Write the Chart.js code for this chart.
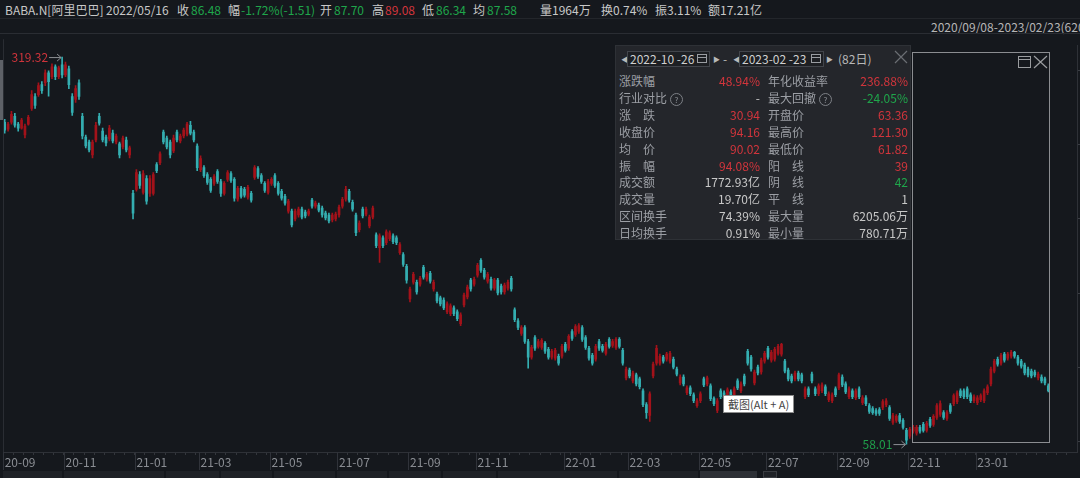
<!DOCTYPE html>
<html>
<head>
<meta charset="utf-8">
<script src="https://cdn.jsdelivr.net/npm/chart.js@4.4.0/dist/chart.umd.min.js"></script>
<style>
html, body { margin: 0; padding: 0; background: #15181d; width: 1080px; height: 478px; overflow: hidden;
  font-family: "Noto Sans CJK SC", "Noto Sans", sans-serif; font-size: 12px; color: #c8c8c8; }
.abs { position: absolute; white-space: nowrap; line-height: 14px; }
.g { color: #1fa64b; }
.r { color: #d3353c; }
.hline { position: absolute; left: 0; width: 1080px; height: 1px; }
#wrap { position: absolute; left: 0; top: 34px; width: 1127px; height: 436px; }
#panel { position: absolute; left: 615px; top: 45px; width: 296px; height: 195px; background: #24262b; border: 1px solid #2e3136; box-sizing: border-box; }
#panel .lab { color: #9c9fa5; }
.datebox { position: absolute; top: 5px; height: 16px; border: 1px solid #42454b; background: #1d1f23; box-sizing: border-box; line-height: 14px; padding-left: 2px; color: #cfcfcf; }
.cal { position: absolute; right: 2px; top: 2px; width: 10px; height: 9px; border: 1px solid #9a9da2; box-sizing: border-box; }
.cal::after { content: ""; position: absolute; left: 0; right: 0; top: 2px; height: 1px; background: #9a9da2; }
.tri { position: absolute; top: 5px; font-size: 7px; color: #b8b8b8; line-height: 16px; }
.help { display: inline-block; width: 11px; height: 11px; border: 1px solid #7d8086; border-radius: 50%; font-size: 8px; line-height: 11px; text-align: center; color: #8d9096; margin-left: 3px; vertical-align: 0px; }
#sel { position: absolute; left: 912px; top: 52px; width: 138px; height: 391px; border: 1px solid #8b8d91; box-sizing: border-box; }
#tip { position: absolute; left: 723px; top: 395px; width: 71px; height: 18px; background: #fff; border: 1px solid #8d8d8d; box-sizing: border-box; color: #444; font-size: 11px; line-height: 16px; padding-left: 4px; white-space: nowrap; }
.tab { position: absolute; top: 471px; height: 7px; background: #1f2227; }
</style>
</head>
<body>

<!-- top info bar -->
<span class="abs" style="left:5px;top:3px">BABA.N[阿里巴巴]</span>
<span class="abs" style="left:106px;top:3px">2022/05/16</span>
<span class="abs" style="left:177px;top:3px">收</span><span class="abs g" style="left:191px;top:3px">86.48</span>
<span class="abs" style="left:228px;top:3px">幅</span><span class="abs g" style="left:241px;top:3px">-1.72%(-1.51)</span>
<span class="abs" style="left:320px;top:3px">开</span><span class="abs g" style="left:334px;top:3px">87.70</span>
<span class="abs" style="left:372px;top:3px">高</span><span class="abs r" style="left:385px;top:3px">89.08</span>
<span class="abs" style="left:422px;top:3px">低</span><span class="abs g" style="left:436px;top:3px">86.34</span>
<span class="abs" style="left:473px;top:3px">均</span><span class="abs g" style="left:487px;top:3px">87.58</span>
<span class="abs" style="left:540px;top:3px">量1964万</span>
<span class="abs" style="left:601px;top:3px">换0.74%</span>
<span class="abs" style="left:655px;top:3px">振3.11%</span>
<span class="abs" style="left:708px;top:3px">额17.21亿</span>
<div class="hline" style="top:18px;background:#23262b"></div>
<span class="abs" style="left:931px;top:20px;color:#b5b5b5;text-decoration:underline">2020/09/08-2023/02/23(620日)</span>
<div class="hline" style="top:33px;background:#2a2d33"></div>

<!-- left scroll marker -->
<div style="position:absolute;left:0;top:60px;width:3px;height:60px;background:#5e6167"></div>

<div id="wrap"><canvas id="kline"></canvas></div>

<!-- range statistics panel -->
<div id="panel">
  <span class="tri" style="left:5px">&#9664;</span>
  <div class="datebox" style="left:11px;width:83px">2022-10 -26<span class="cal"></span></div>
  <span class="tri" style="left:97px">&#9654;</span>
  <span class="abs" style="left:107px;top:6px;color:#b8b8b8">-</span>
  <span class="tri" style="left:117px">&#9664;</span>
  <div class="datebox" style="left:123px;width:85px">2023-02 -23<span class="cal"></span></div>
  <span class="tri" style="left:210px">&#9654;</span>
  <span class="abs" style="left:222px;top:6px;color:#b8b8b8">(82日)</span>
  <svg style="position:absolute;left:278px;top:4px" width="14" height="14"><path d="M1 1 L13 13 M13 1 L1 13" stroke="#6b6e73" stroke-width="1.2"/></svg>
  <div id="rows"></div>
</div>

<!-- selected range frame -->
<div id="sel">
  <svg style="position:absolute;left:104px;top:2px" width="34" height="14">
    <rect x="1.5" y="1.5" width="12" height="11" fill="none" stroke="#9a9c9f" stroke-width="1"/>
    <path d="M1.5 4.5 H13.5" stroke="#9a9c9f" stroke-width="1"/>
    <path d="M17 1 L30 13 M30 1 L17 13" stroke="#9a9c9f" stroke-width="1.2"/>
  </svg>
</div>

<div id="tip">截图(Alt + A)</div>

<!-- bottom tabs -->
<div class="tab" style="left:3px;width:59px"></div>
<div class="tab" style="left:64px;width:100px"></div>
<div class="tab" style="left:166px;width:53px"></div>
<div class="tab" style="left:221px;width:51px"></div>
<div class="tab" style="left:274px;width:61px"></div>
<div class="tab" style="left:337px;width:50px"></div>
<div class="tab" style="left:389px;width:52px"></div>
<div class="tab" style="left:443px;width:53px"></div>
<div class="tab" style="left:498px;width:119px"></div>
<div class="tab" style="left:619px;width:79px"></div>
<div class="tab" style="left:700px;width:57px;background:#2d3036"></div>
<div class="tab" style="left:763px;width:14px;border:1px solid #3a3d42;box-sizing:border-box"></div>

<script>
// daily K-line, two trading days per candle, 2020/09/08 - 2023/02/23
const opens = [
  275.3, 270.7, 275.3, 279.3, 274.0, 271.3, 266.7, 274.0, 284.7, 292.7,
  294.0, 300.7, 302.0, 308.7, 306.0, 312.7, 306.0, 314.0, 307.3, 311.3,
  292.7, 290.7, 302.0, 279.3, 265.3, 262.0, 253.3, 263.3, 279.3, 269.3,
  265.3, 264.0, 268.0, 262.0, 260.7, 258.7, 263.3, 253.3, 227.3, 230.0,
  240.0, 228.0, 237.3, 227.3, 227.3, 246.7, 248.0, 268.7, 264.7, 262.0,
  256.0, 268.7, 262.7, 266.0, 267.3, 273.3, 268.7, 259.3, 243.3, 244.7,
  240.0, 236.7, 234.0, 242.0, 235.3, 227.3, 236.7, 240.7, 236.7, 223.3,
  230.7, 230.0, 224.7, 227.3, 238.0, 244.0, 239.3, 234.0, 228.0, 234.0,
  239.3, 234.0, 228.7, 225.3, 215.3, 215.3, 210.0, 212.7, 216.7, 214.7,
  213.3, 222.7, 218.7, 219.3, 217.3, 214.0, 212.7, 209.3, 210.0, 212.7,
  218.7, 223.3, 228.7, 221.3, 212.7, 202.7, 216.7, 213.3, 205.3, 211.3,
  199.3, 190.7, 197.3, 194.0, 196.7, 198.7, 197.3, 187.3, 186.0, 178.0,
  156.0, 167.3, 167.3, 166.0, 177.3, 169.3, 173.3, 162.7, 159.3, 156.7,
  155.3, 147.3, 146.0, 150.0, 147.3, 139.3, 152.0, 157.3, 168.7, 166.0,
  172.0, 182.0, 175.3, 168.0, 169.3, 163.3, 168.7, 164.7, 160.7, 163.3,
  170.0, 148.7, 141.3, 132.7, 136.7, 127.3, 116.7, 130.0, 124.0, 123.3,
  126.0, 122.0, 116.7, 116.0, 117.3, 117.3, 125.3, 122.7, 134.0, 132.0,
  134.0, 136.7, 130.0, 122.7, 118.0, 115.3, 127.3, 124.0, 119.3, 128.7,
  124.7, 123.3, 128.7, 121.3, 102.7, 108.0, 100.7, 104.7, 102.0, 94.0,
  84.7, 77.3, 104.0, 112.7, 112.7, 116.7, 115.3, 114.0, 115.3, 108.7,
  99.3, 103.3, 92.7, 96.0, 91.3, 84.0, 87.3, 102.0, 98.7, 97.3,
  88.7, 80.7, 94.0, 92.7, 90.0, 93.3, 90.7, 100.7, 94.0, 104.0,
  120.7, 116.7, 99.3, 110.0, 106.7, 114.0, 122.7, 114.7, 115.3, 119.3,
  118.7, 114.0, 108.0, 104.0, 102.0, 106.0, 104.7, 90.0, 95.3, 105.3,
  95.3, 92.0, 94.0, 96.7, 88.0, 87.3, 95.3, 96.0, 103.3, 98.7,
  90.0, 94.0, 89.3, 95.3, 86.0, 89.3, 84.0, 82.0, 80.7, 81.3,
  82.7, 84.7, 82.7, 72.7, 74.0, 77.3, 74.0, 67.3, 63.36, 66.7,
  65.3, 69.3, 71.3, 67.3, 74.7, 71.3, 76.0, 78.0, 79.3, 75.3,
  84.0, 85.3, 86.7, 94.0, 94.0, 95.3, 91.3, 87.3, 86.0, 88.0,
  87.3, 92.7, 98.7, 107.3, 115.3, 112.7, 118.7, 116.0, 117.3, 120.0,
  116.7, 114.0, 111.3, 108.7, 107.3, 106.7, 102.7, 103.3, 102.0, 97.3
];
const closes = [
  270.0, 274.0, 280.7, 273.3, 271.3, 276.7, 272.7, 278.7, 294.0, 286.7,
  300.0, 296.7, 308.7, 302.7, 312.7, 306.0, 312.0, 307.3, 314.0, 300.7,
  282.0, 298.0, 292.7, 266.0, 259.3, 256.7, 262.0, 273.3, 274.7, 263.3,
  261.3, 271.3, 262.7, 266.0, 253.3, 264.7, 256.7, 258.0, 214.0, 241.3,
  232.7, 240.7, 222.0, 237.3, 240.0, 242.7, 254.0, 262.0, 258.7, 253.3,
  264.7, 263.3, 266.0, 270.0, 274.0, 268.0, 263.3, 244.7, 250.7, 239.3,
  234.7, 229.3, 238.7, 235.3, 227.3, 234.0, 241.3, 236.0, 224.0, 230.7,
  225.3, 226.0, 231.3, 222.7, 244.7, 238.7, 235.3, 229.3, 235.3, 236.7,
  232.7, 227.3, 224.0, 220.7, 222.0, 206.0, 215.3, 216.7, 211.3, 212.0,
  215.3, 218.7, 220.7, 216.0, 212.7, 210.7, 208.7, 212.7, 213.3, 218.0,
  223.3, 230.0, 222.7, 216.7, 200.7, 207.3, 212.0, 216.7, 211.3, 217.3,
  192.0, 198.7, 192.0, 201.3, 200.7, 194.7, 194.0, 192.7, 179.3, 168.7,
  162.7, 172.7, 160.7, 170.0, 170.7, 172.7, 168.0, 167.3, 154.7, 152.7,
  150.0, 152.7, 151.3, 146.0, 142.7, 145.3, 158.7, 164.0, 162.7, 169.3,
  178.7, 175.3, 170.7, 172.7, 163.3, 168.7, 160.0, 160.7, 165.3, 167.3,
  162.7, 142.0, 136.7, 136.7, 127.3, 116.7, 123.3, 122.7, 127.3, 128.0,
  120.7, 116.7, 120.7, 121.3, 112.7, 124.0, 121.3, 130.7, 129.3, 137.3,
  138.0, 128.7, 123.3, 116.0, 112.7, 124.0, 122.7, 121.3, 125.3, 124.0,
  127.3, 128.7, 124.0, 112.7, 108.7, 104.0, 106.0, 98.7, 96.7, 84.7,
  79.3, 92.0, 112.0, 122.7, 117.3, 114.0, 118.7, 119.3, 110.0, 105.3,
  103.3, 98.7, 96.0, 92.0, 87.3, 87.3, 92.0, 98.0, 102.7, 88.7,
  85.3, 87.3, 90.0, 89.3, 94.7, 90.0, 95.3, 96.0, 98.7, 98.7,
  112.7, 108.7, 106.7, 106.0, 114.7, 119.3, 116.7, 120.0, 122.0, 124.0,
  125.3, 107.3, 102.0, 100.7, 106.0, 102.0, 100.7, 95.3, 91.3, 100.7,
  92.0, 97.3, 98.0, 92.0, 92.0, 91.3, 91.3, 104.7, 98.0, 93.3,
  95.3, 90.0, 94.0, 90.0, 89.3, 85.3, 80.0, 79.3, 78.7, 78.7,
  86.7, 87.3, 75.3, 77.3, 76.7, 73.3, 69.3, 60.7, 68.0, 69.3,
  69.3, 66.7, 67.3, 72.0, 70.7, 76.7, 84.0, 85.3, 76.0, 79.3,
  80.0, 90.7, 92.7, 90.7, 90.0, 90.0, 87.3, 90.0, 89.3, 90.7,
  94.0, 96.7, 108.7, 114.0, 112.0, 118.0, 114.7, 118.7, 120.0, 117.3,
  112.7, 110.7, 106.0, 104.7, 104.0, 104.7, 105.3, 100.7, 99.3, 94.16
];
const highs = [
  277.3, 275.3, 282.7, 281.3, 275.3, 278.0, 274.0, 280.0, 296.7, 294.7,
  302.0, 302.7, 310.7, 310.0, 314.7, 314.0, 313.3, 319.32, 316.0, 313.3,
  294.7, 300.0, 304.0, 281.3, 266.7, 263.3, 263.3, 275.3, 281.3, 271.3,
  266.7, 273.3, 270.0, 267.3, 262.0, 266.0, 265.3, 259.3, 229.3, 243.3,
  242.0, 242.7, 239.3, 239.3, 241.3, 248.0, 255.3, 270.0, 266.0, 263.3,
  266.7, 270.0, 267.3, 271.3, 275.3, 276.0, 270.0, 260.7, 252.7, 246.0,
  241.3, 238.0, 240.0, 243.3, 236.7, 235.3, 242.7, 242.0, 238.0, 232.0,
  232.0, 231.3, 232.7, 228.7, 246.0, 245.3, 240.7, 235.3, 236.7, 238.0,
  240.7, 235.3, 230.0, 226.7, 223.3, 216.7, 216.7, 218.0, 218.0, 216.0,
  216.7, 224.0, 222.0, 220.7, 218.7, 215.3, 214.0, 214.0, 214.7, 219.3,
  224.7, 232.0, 230.0, 222.7, 214.0, 208.7, 218.0, 218.0, 212.7, 218.7,
  200.7, 200.0, 198.7, 202.7, 202.0, 200.0, 198.7, 194.0, 187.3, 179.3,
  164.0, 174.0, 168.7, 171.3, 178.7, 174.0, 174.7, 168.7, 160.7, 158.0,
  156.7, 154.0, 152.7, 151.3, 148.7, 146.7, 160.0, 165.3, 170.0, 170.7,
  180.0, 183.3, 176.7, 174.0, 170.7, 170.0, 170.0, 166.0, 166.7, 168.7,
  171.3, 150.0, 142.7, 138.0, 138.0, 128.7, 124.7, 131.3, 128.7, 129.3,
  127.3, 123.3, 122.0, 122.7, 118.7, 125.3, 126.7, 132.0, 135.3, 138.7,
  139.3, 138.0, 131.3, 124.0, 119.3, 125.3, 128.7, 125.3, 126.7, 130.0,
  128.7, 130.0, 130.0, 122.7, 110.0, 109.3, 107.3, 106.0, 103.3, 95.3,
  86.0, 93.3, 113.3, 124.7, 118.7, 118.0, 120.0, 120.7, 116.7, 110.0,
  104.7, 104.7, 97.3, 97.3, 92.7, 88.7, 93.3, 103.3, 104.0, 98.7,
  90.0, 88.7, 95.3, 94.0, 96.0, 94.7, 96.7, 102.0, 100.0, 105.3,
  122.0, 118.0, 108.0, 111.3, 116.0, 120.7, 124.0, 121.3, 123.3, 125.3,
  126.0, 115.3, 109.3, 105.3, 107.3, 107.3, 106.0, 96.7, 96.7, 106.7,
  96.7, 98.7, 99.3, 98.0, 93.3, 92.7, 96.7, 106.0, 104.7, 100.0,
  96.7, 95.3, 95.3, 96.7, 90.7, 90.7, 85.3, 83.3, 82.0, 82.7,
  88.0, 88.7, 84.0, 78.7, 78.0, 78.7, 75.3, 68.7, 69.3, 70.7,
  70.7, 70.7, 72.7, 73.3, 76.0, 78.0, 85.3, 87.3, 80.7, 80.7,
  85.3, 92.0, 94.0, 95.3, 95.3, 96.7, 92.7, 91.3, 90.7, 92.0,
  95.3, 98.0, 110.0, 115.3, 116.7, 119.3, 120.0, 120.0, 121.3, 120.7,
  118.0, 115.3, 112.7, 110.0, 108.7, 108.0, 106.7, 104.7, 103.3, 98.7
];
const lows = [
  268.0, 269.3, 274.0, 272.0, 269.3, 270.7, 264.7, 273.3, 283.3, 284.7,
  292.7, 294.7, 300.0, 293.0, 304.7, 304.0, 304.7, 305.3, 306.0, 298.0,
  280.0, 288.7, 290.7, 264.0, 258.0, 255.3, 251.3, 262.0, 273.3, 262.0,
  259.3, 262.7, 261.3, 260.7, 251.3, 257.3, 255.3, 251.3, 210.0, 228.7,
  230.7, 226.7, 220.0, 225.3, 226.0, 241.3, 246.7, 260.7, 257.3, 251.3,
  254.7, 262.0, 261.3, 264.7, 266.0, 266.7, 262.0, 242.7, 242.0, 238.0,
  233.3, 228.0, 232.7, 234.0, 225.3, 226.0, 235.3, 234.7, 222.0, 222.0,
  224.0, 224.7, 223.3, 221.3, 236.7, 237.3, 234.0, 228.0, 226.7, 232.7,
  231.3, 226.0, 222.7, 219.3, 214.0, 204.7, 208.7, 211.3, 210.0, 210.7,
  212.0, 217.3, 217.3, 214.7, 211.3, 209.3, 207.3, 208.0, 208.7, 211.3,
  217.3, 222.0, 221.3, 215.3, 198.7, 201.3, 210.7, 212.0, 204.0, 210.0,
  190.7, 180.7, 190.7, 192.7, 195.3, 193.3, 192.7, 186.0, 178.0, 166.7,
  154.0, 166.0, 159.3, 164.7, 169.3, 168.0, 166.7, 161.3, 153.3, 151.3,
  148.7, 146.0, 144.7, 144.7, 141.3, 138.0, 150.7, 156.0, 161.3, 164.7,
  170.7, 174.0, 169.3, 166.7, 162.0, 162.0, 158.7, 159.3, 159.3, 162.0,
  161.3, 140.7, 135.3, 131.3, 126.0, 109.3, 115.3, 121.3, 122.7, 122.0,
  119.3, 115.3, 115.3, 114.7, 111.3, 116.0, 120.0, 121.3, 128.0, 130.7,
  132.7, 127.3, 122.0, 114.7, 111.3, 114.0, 121.3, 120.0, 118.0, 122.7,
  123.3, 122.0, 122.7, 111.3, 101.3, 102.7, 99.3, 97.3, 95.3, 83.3,
  75.3, 73.3, 102.7, 111.3, 111.3, 112.7, 114.0, 112.7, 108.7, 104.0,
  98.0, 97.3, 91.3, 90.7, 86.0, 82.7, 86.0, 96.7, 97.3, 87.3,
  84.0, 79.3, 88.7, 88.0, 88.7, 88.7, 89.3, 94.7, 92.7, 97.3,
  111.3, 107.3, 98.0, 104.7, 105.3, 112.7, 115.3, 113.3, 114.0, 118.0,
  117.3, 106.0, 100.7, 99.3, 100.7, 100.7, 99.3, 88.7, 90.0, 99.3,
  90.7, 90.7, 92.7, 90.7, 86.7, 86.0, 90.0, 94.7, 96.7, 92.0,
  88.7, 88.7, 88.0, 88.7, 84.7, 84.0, 78.7, 78.0, 77.3, 77.3,
  81.3, 83.3, 74.0, 71.3, 72.7, 72.0, 68.0, 58.01, 61.82, 65.3,
  64.0, 65.3, 66.0, 66.0, 69.3, 70.0, 74.7, 76.7, 74.7, 74.0,
  78.7, 84.0, 85.3, 89.3, 88.7, 88.7, 86.0, 86.0, 84.7, 86.7,
  86.0, 91.3, 97.3, 106.0, 110.7, 111.3, 113.3, 114.7, 116.0, 116.0,
  111.3, 109.3, 104.7, 103.3, 102.7, 103.3, 101.3, 99.3, 98.0, 93.3
];
const monthLabels = ['20-09', '20-11', '21-01', '21-03', '21-05', '21-07', '21-09', '21-11',
  '22-01', '22-03', '22-05', '22-07', '22-09', '22-11', '23-01'];
const monthIdx = [0, 18, 39, 58, 79, 99, 120, 140, 166, 185, 206, 226, 247, 268, 288];
const yTicks = [60, 110, 160, 210, 260, 310];

// range statistics shown in the overlay panel
const statRows = [
  ['涨跌幅', '48.94%', 'r', '年化收益率', '236.88%', 'r'],
  ['行业对比?', '-', '', '最大回撤?', '-24.05%', 'g'],
  ['涨　跌', '30.94', 'r', '开盘价', '63.36', 'r'],
  ['收盘价', '94.16', 'r', '最高价', '121.30', 'r'],
  ['均　价', '90.02', 'r', '最低价', '61.82', 'r'],
  ['振　幅', '94.08%', 'r', '阳　线', '39', 'r'],
  ['成交额', '1772.93亿', '', '阴　线', '42', 'g'],
  ['成交量', '19.70亿', '', '平　线', '1', ''],
  ['区间换手', '74.39%', '', '最大量', '6205.06万', ''],
  ['日均换手', '0.91%', '', '最小量', '780.71万', '']
];

const UP = '#a3121a', DOWN = '#34aeb1';
const N = 318; // 310 candles plus empty room at the right edge

const rowsEl = document.getElementById('rows');
const labHtml = t => t.endsWith('?') ? t.slice(0, -1) + '<span class="help">?</span>' : t;
statRows.forEach((r, k) => {
  const top = 28 + k * 16.9;
  rowsEl.innerHTML += `
    <span class="abs lab" style="left:3px;top:${top}px">${labHtml(r[0])}</span>
    <span class="abs ${r[2]}" style="left:45px;width:99px;text-align:right;top:${top}px">${r[1]}</span>
    <span class="abs lab" style="left:152px;top:${top}px">${labHtml(r[3])}</span>
    <span class="abs ${r[5]}" style="left:190px;width:102px;text-align:right;top:${top}px">${r[4]}</span>`;
});

const xLabels = new Array(N).fill('');
monthIdx.forEach((k, j) => { xLabels[k] = monthLabels[j]; });
const colors = closes.map((c, i) => c >= opens[i] ? UP : DOWN);

function drawMark(ctx, px, py, text, color) {
  ctx.strokeStyle = '#8c8f94';
  ctx.lineWidth = 1;
  ctx.beginPath();
  ctx.moveTo(px - 13, py + 0.5);
  ctx.lineTo(px - 1, py + 0.5);
  ctx.moveTo(px - 5, py - 3);
  ctx.lineTo(px - 1, py + 0.5);
  ctx.lineTo(px - 5, py + 4);
  ctx.stroke();
  ctx.fillStyle = color;
  ctx.font = '12px "Noto Sans CJK SC"';
  ctx.textAlign = 'right';
  ctx.textBaseline = 'middle';
  ctx.fillText(text, px - 14, py);
}

const marks = {
  id: 'marks',
  afterDraw(chart) {
    const { ctx, chartArea, scales: { x, y } } = chart;
    ctx.save();
    ctx.fillStyle = '#2a2d33';
    ctx.fillRect(chartArea.left, chartArea.top - 6, 1, chartArea.bottom - chartArea.top + 6);
    const step = x.getPixelForValue(1) - x.getPixelForValue(0);
    ctx.fillStyle = '#30333a';
    monthIdx.forEach(k => {
      const px = Math.round(x.getPixelForValue(k) - step / 2);
      ctx.fillRect(px, chartArea.bottom, 1, 18);
    });
    const hi = Math.max(...highs), lo = Math.min(...lows);
    drawMark(ctx, x.getPixelForValue(highs.indexOf(hi)), y.getPixelForValue(hi), hi.toFixed(2), '#cf343b');
    drawMark(ctx, x.getPixelForValue(lows.indexOf(lo)), y.getPixelForValue(lo), lo.toFixed(2), '#1f9f4a');
    ctx.restore();
  }
};

new Chart(document.getElementById('kline'), {
  type: 'bar',
  data: {
    labels: xLabels,
    datasets: [
      {
        data: opens.map((o, i) => [o, closes[i]]),
        backgroundColor: colors,
        barThickness: 2,
        minBarLength: 1,
        grouped: false
      },
      {
        data: lows.map((l, i) => [l, highs[i]]),
        backgroundColor: colors,
        barThickness: 1,
        grouped: false
      }
    ]
  },
  options: {
    responsive: true,
    maintainAspectRatio: false,
    animation: false,
    events: [],
    layout: { padding: { left: 3, top: 6, right: 0, bottom: 0 } },
    plugins: { legend: { display: false }, tooltip: { enabled: false } },
    scales: {
      x: {
        offset: true,
        grid: {
          offset: true,
          drawOnChartArea: false,
          tickLength: 3,
          color: c => c.index % 3 === 0 ? '#33363c' : 'transparent'
        },
        border: { color: '#2e3137' },
        ticks: {
          autoSkip: false,
          maxRotation: 0,
          align: 'start',
          padding: 0,
          color: '#8a8d93',
          font: { size: 12, family: '"Noto Sans CJK SC"' },
          callback: (v, i) => xLabels[i]
        },
        afterFit: s => { s.height = 18; }
      },
      y: {
        position: 'right',
        min: 52.67,
        max: 327.33,
        afterBuildTicks: s => { s.ticks = yTicks.map(v => ({ value: v })); },
        grid: { drawOnChartArea: false, tickLength: 4, color: '#3a3d43' },
        border: { color: '#2e3137' },
        ticks: { color: '#8a8d93', font: { size: 12, family: '"Noto Sans CJK SC"' }, padding: 4 },
        afterFit: s => { s.width = 50; }
      }
    }
  },
  plugins: [marks]
});
</script>
</body>
</html>
